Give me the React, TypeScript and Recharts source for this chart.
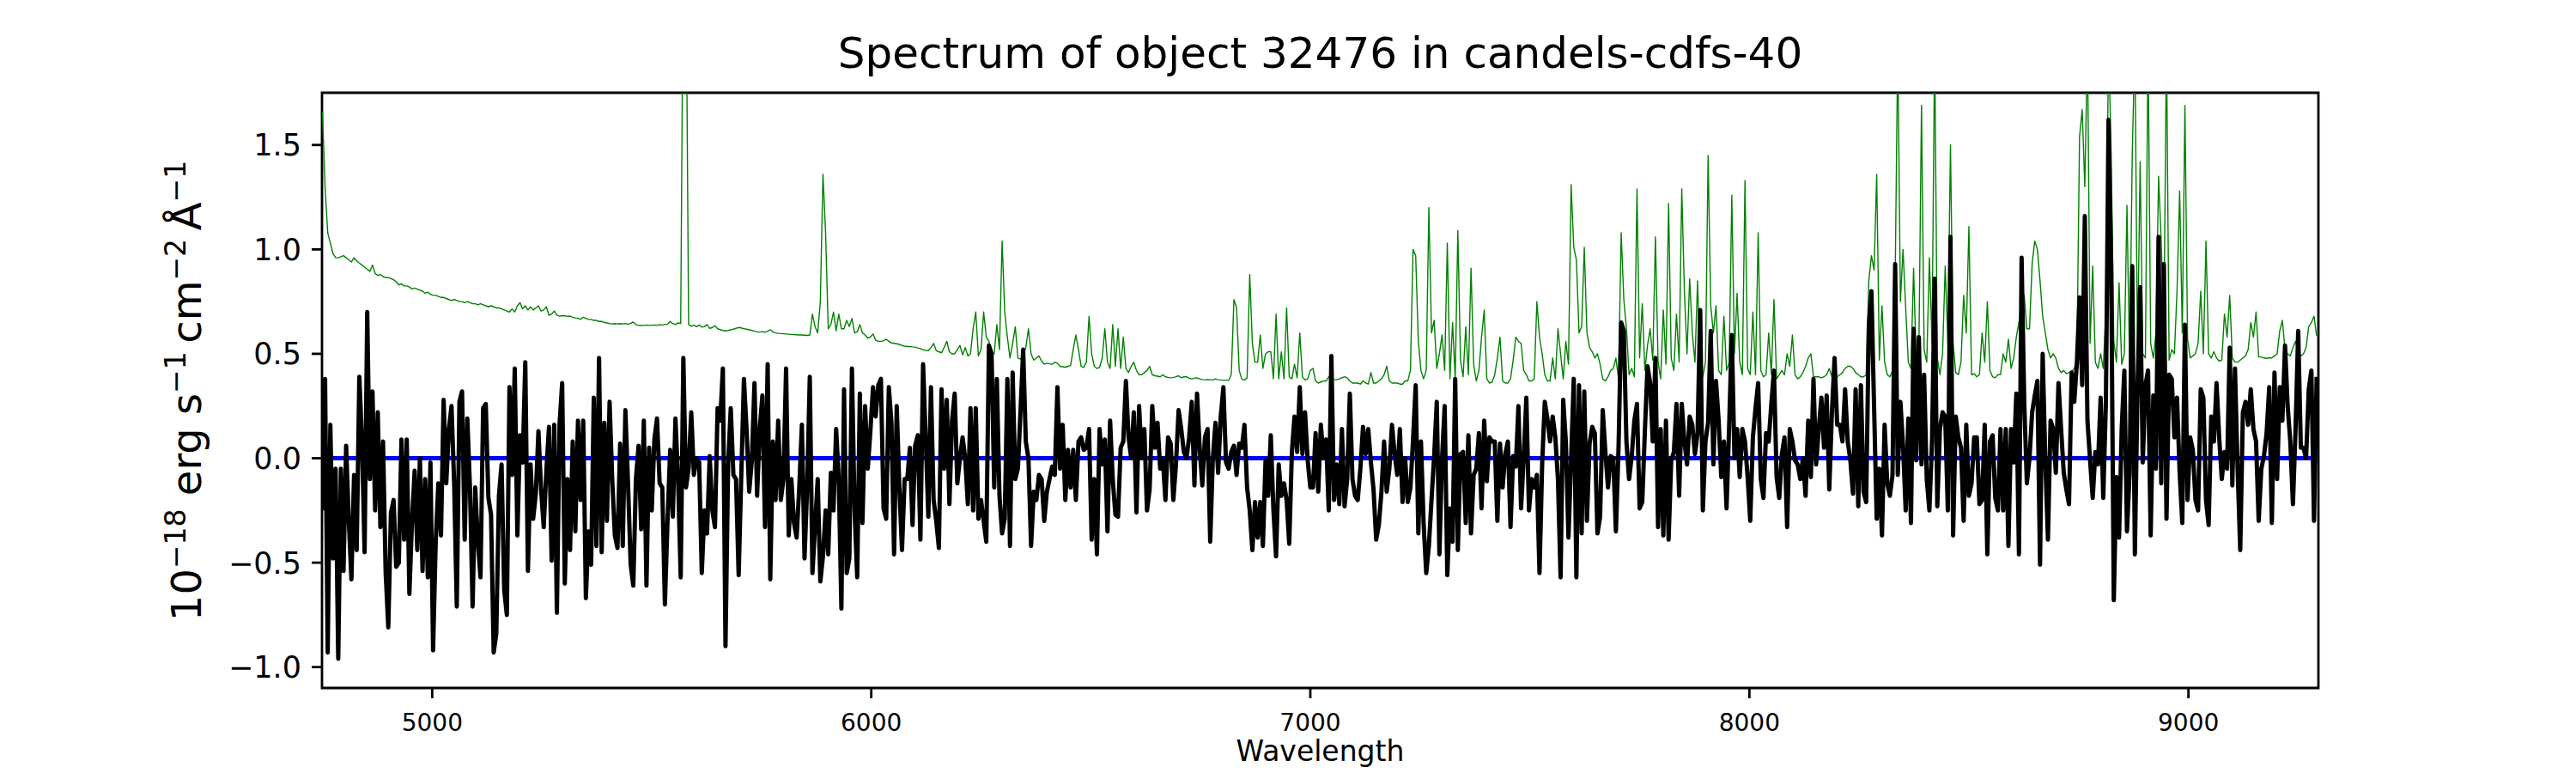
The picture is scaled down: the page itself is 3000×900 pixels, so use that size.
import React from 'react';
import { LineChart, Line, XAxis, YAxis, ReferenceArea } from 'recharts';

const FONT = 'DejaVu Sans';

// pixel grid of the spectrum: each block starts at its own wavelength, 6 A per pixel
const STEP = 6;
const BLOCK_STARTS = [4750, 5344, 5938, 6526, 7114, 7702, 8284, 8872];

const X_TICKS = [5000, 6000, 7000, 8000, 9000];
const Y_TICKS = [-1.0, -0.5, 0.0, 0.5, 1.0, 1.5];
const X_DOMAIN = [4749, 9296];
const Y_DOMAIN = [-1.1, 1.75];

// flux (black)
const FLUX_A = [
  -0.25, 0.38, -0.93, 0.16, -0.48, -0.05, -0.96, -0.05, -0.54, 0.06,
  -0.30, -0.58, -0.08, -0.44, 0.39, 0.09, -0.45, 0.70, -0.10, 0.32,
  -0.25, 0.22, -0.33, 0.08, -0.55, -0.81, -0.26, -0.20, -0.52, -0.50,
  0.09, -0.39, 0.09, -0.65, -0.30, -0.06, -0.44, 0.00, -0.54, -0.10,
  -0.57, -0.02, -0.92, -0.40, -0.12, -0.37, 0.28, -0.12, 0.14, 0.25,
  -0.12, -0.71, 0.27, 0.32, -0.39, 0.19, -0.14, -0.71, -0.14, -0.40,
  -0.57, 0.24, 0.26, -0.19, -0.27, -0.93, -0.84, -0.18, -0.03, -0.63,
  -0.75, 0.34, -0.08, 0.43, -0.37, 0.11, -0.02, 0.46, -0.54, -0.03,
  -0.29, -0.17, 0.13, -0.15, -0.33, -0.06, 0.15, -0.49, 0.16, -0.74,
  0.16, 0.36, -0.60, -0.10, -0.44, 0.08, -0.35, 0.18, -0.20,
];
const FLUX_B = [
  0.18, -0.67, -0.35, -0.51, 0.29, -0.42, 0.48, -0.45, 0.17, -0.30,
  0.27, -0.10, -0.37, -0.43, 0.07, -0.42, 0.23, -0.12, -0.51, -0.61,
  -0.10, 0.06, -0.34, 0.18, -0.61, 0.05, -0.25, 0.09, 0.19, -0.12,
  -0.14, -0.70, -0.30, 0.04, -0.28, 0.19, -0.10, -0.57, 0.48, -0.14,
  -0.05, 0.22, -0.08, 0.00, -0.02, -0.55, -0.25, -0.36, 0.01, -0.25,
  -0.33, 0.24, 0.18, 0.43, -0.90, -0.03, 0.24, -0.08, -0.10, -0.56,
  -0.08, 0.38, 0.14, -0.16, -0.01, 0.36, -0.18, 0.14, 0.30, -0.33,
  0.45, -0.58, 0.08, -0.20, 0.18, -0.20, -0.10, 0.43, -0.37, -0.10,
  -0.31, -0.38, -0.14, 0.16, -0.48, -0.14, 0.39, -0.55, -0.33, -0.10,
  -0.59, -0.47, -0.25, -0.46, -0.07, -0.25, 0.14, -0.10, -0.72,
];
const FLUX_C = [
  0.33, -0.55, -0.48, 0.43, -0.25, -0.57, 0.31, -0.31, 0.25, -0.05,
  0.13, 0.34, 0.20, 0.35, 0.38, -0.24, -0.29, 0.34, 0.17, -0.46,
  0.25, -0.14, -0.44, -0.10, -0.10, 0.05, -0.32, 0.06, 0.11, -0.39,
  0.45, 0.10, -0.28, 0.34, -0.20, -0.30, -0.43, 0.33, -0.05, 0.28,
  -0.22, 0.18, 0.31, -0.12, 0.00, 0.10, 0.00, -0.22, 0.24, -0.25,
  0.24, -0.29, -0.20, -0.30, -0.40, 0.54, 0.50, -0.14, 0.38, -0.18,
  -0.36, -0.29, 0.38, -0.42, 0.41, -0.10, -0.05, 0.23, 0.52, 0.08,
  0.00, -0.42, -0.16, -0.20, -0.08, -0.10, -0.30, -0.16, -0.10, -0.04,
  -0.08, 0.34, -0.05, 0.16, -0.20, 0.04, -0.14, 0.04, -0.20, 0.08,
  0.10, 0.04, 0.05, 0.14, -0.39, -0.10, -0.46, 0.14,
];
const FLUX_D = [
  -0.03, 0.09, -0.35, 0.18, -0.10, -0.27, -0.28, 0.05, 0.08, 0.37,
  0.10, 0.00, 0.22, -0.26, 0.25, 0.00, 0.14, -0.25, -0.15, 0.25,
  0.05, 0.17, -0.05, 0.00, -0.20, 0.10, 0.07, -0.20, -0.03, 0.23,
  0.14, 0.03, 0.00, 0.10, 0.27, -0.13, 0.31, 0.05, -0.13, 0.10,
  0.14, -0.40, 0.00, 0.17, -0.07, 0.20, 0.34, -0.02, -0.05, 0.03,
  0.06, -0.08, 0.07, 0.05, 0.16, -0.14, -0.25, -0.44, -0.21, -0.38,
  -0.21, -0.42, -0.01, -0.18, 0.11, -0.25, -0.47, -0.03, -0.18, -0.12,
  -0.20, -0.41, 0.03, 0.20, 0.03, 0.34, 0.02, 0.22, -0.01, -0.14,
  -0.14, 0.12, -0.16, 0.16, 0.00, 0.09, -0.25, 0.49, -0.20, -0.03,
  -0.22, 0.14, -0.23, -0.10, 0.31, -0.10, -0.18, -0.20,
];
const FLUX_E = [
  -0.05, 0.15, 0.02, 0.14, -0.02, -0.15, -0.39, -0.32, -0.16, 0.08,
  -0.16, -0.05, 0.16, 0.02, -0.08, 0.14, -0.21, 0.00, -0.21, -0.14,
  0.09, 0.35, -0.36, 0.08, -0.31, -0.55, -0.42, -0.20, 0.01, 0.27,
  -0.46, 0.00, 0.25, -0.56, -0.24, -0.40, 0.38, -0.44, 0.02, 0.03,
  -0.31, 0.11, -0.36, -0.08, -0.05, 0.12, -0.24, 0.18, -0.11, 0.10,
  0.08, 0.08, -0.30, 0.07, -0.14, 0.02, 0.08, -0.33, 0.01, -0.04,
  0.25, -0.24, 0.00, 0.29, -0.25, -0.10, -0.14, -0.08, -0.55, -0.03,
  0.27, 0.19, 0.08, 0.20, 0.10, -0.10, -0.57, 0.28, 0.08, -0.38,
  0.00, 0.38, -0.57, 0.35, -0.36, 0.32, -0.30, 0.07, 0.15, 0.12,
  -0.36, -0.28, 0.23, 0.03, -0.14, 0.01, 0.00, -0.35,
];
const FLUX_F = [
  0.05, 0.65, 0.61, 0.08, -0.10, 0.01, 0.18, 0.26, -0.24, -0.21,
  0.13, 0.44, 0.36, 0.08, 0.48, -0.33, 0.14, -0.37, 0.18, -0.39,
  -0.01, 0.03, 0.26, -0.18, 0.26, 0.08, -0.03, 0.20, 0.16, 0.02,
  0.12, 0.71, -0.25, 0.08, 0.17, 0.61, -0.03, 0.37, 0.18, -0.09,
  0.08, -0.24, 0.16, 0.59, 0.00, 0.14, -0.09, 0.14, 0.08, -0.09,
  -0.30, 0.10, 0.24, 0.36, -0.10, -0.19, 0.12, 0.08, 0.26, 0.42,
  -0.09, -0.19, 0.02, 0.10, -0.33, 0.14, 0.08, -0.01, -0.03, -0.10,
  0.00, -0.18, 0.18, -0.09, 0.38, -0.03, 0.14, 0.29, 0.05, 0.30,
  -0.15, 0.22, 0.48, 0.16, 0.16, 0.08, 0.33, 0.08, -0.01, -0.17,
  0.33, -0.23, 0.35, -0.16, -0.21, 0.63, 0.80,
];
const FLUX_G = [
  0.25, -0.29, -0.05, -0.37, 0.16, -0.12, -0.18, -0.08, 0.93, -0.08,
  0.27, 0.06, -0.25, 0.19, -0.31, 0.62, -0.01, 0.58, -0.03, 0.40,
  -0.10, -0.25, 0.08, 0.86, -0.23, 0.14, 0.22, 0.20, -0.25, 1.06,
  -0.37, 0.20, 0.10, 0.05, -0.30, 0.16, -0.18, -0.12, 0.10, 0.10,
  -0.22, -0.20, 0.16, -0.46, 0.08, 0.11, -0.19, -0.25, 0.14, -0.25,
  0.14, -0.42, 0.14, -0.02, 0.31, -0.46, 0.96, 0.27, -0.12, 0.00,
  0.22, 0.30, 0.37, -0.51, 0.50, -0.01, -0.39, 0.18, 0.14, -0.07,
  0.36, 0.14, -0.07, -0.15, -0.22, 0.41, 0.27, 0.46, 0.77, 0.35,
  1.16, 0.18, -0.01, -0.19, 0.03, -0.03, 0.29, -0.19, 0.27, 1.62,
  0.93, -0.68, -0.09, -0.38, 0.14, 0.42, -0.35, -0.07,
];
const FLUX_H = [
  0.92, -0.46, 0.33, 0.82, -0.02, 0.35, 0.42, -0.37, 0.30, -0.05,
  1.06, -0.12, 0.93, -0.29, 0.40, 0.38, 0.10, 0.29, -0.07, -0.31,
  0.64, -0.20, 0.10, 0.04, -0.20, -0.25, 0.33, 0.29, -0.20, -0.32,
  0.20, 0.08, 0.36, 0.10, -0.10, 0.03, -0.05, 0.53, -0.13, 0.43,
  -0.05, -0.44, 0.22, 0.27, 0.16, 0.33, 0.14, 0.08, -0.30, -0.05,
  0.01, 0.12, 0.34, -0.31, 0.41, -0.10, 0.34, 0.18, 0.54, 0.25,
  0.08, -0.22, 0.14, 0.61, 0.05, 0.05, 0.00, 0.33, 0.42, -0.30,
  0.39,
];

// noise / sky spectrum (green)
const ERR_A = [
  1.66, 1.30, 1.08, 1.03, 0.98, 0.96, 0.96, 0.965, 0.97, 0.96,
  0.95, 0.94, 0.96, 0.945, 0.935, 0.925, 0.915, 0.905, 0.895, 0.925,
  0.885, 0.875, 0.88, 0.87, 0.865, 0.865, 0.86, 0.855, 0.845, 0.83,
  0.835, 0.825, 0.825, 0.82, 0.81, 0.815, 0.81, 0.805, 0.80, 0.79,
  0.795, 0.785, 0.78, 0.78, 0.775, 0.77, 0.77, 0.765, 0.76, 0.755,
  0.76, 0.755, 0.75, 0.75, 0.745, 0.75, 0.745, 0.74, 0.74, 0.735,
  0.74, 0.735, 0.73, 0.725, 0.73, 0.725, 0.72, 0.72, 0.715, 0.71,
  0.705, 0.70, 0.715, 0.70, 0.73, 0.745, 0.715, 0.73, 0.71, 0.725,
  0.71, 0.72, 0.73, 0.705, 0.71, 0.725, 0.685, 0.69, 0.705, 0.685,
  0.68, 0.683, 0.682, 0.68, 0.68, 0.675, 0.672, 0.67, 0.665,
];
const ERR_B = [
  0.675, 0.67, 0.665, 0.665, 0.66, 0.66, 0.655, 0.655, 0.65, 0.648,
  0.645, 0.643, 0.645, 0.643, 0.645, 0.643, 0.645, 0.642, 0.645, 0.652,
  0.64, 0.636, 0.637, 0.635, 0.638, 0.636, 0.637, 0.638, 0.636, 0.64,
  0.638, 0.64, 0.642, 0.655, 0.645, 0.64, 0.648, 0.645, 2.5, 2.4,
  0.64, 0.632, 0.637, 0.63, 0.638, 0.628, 0.63, 0.64, 0.622, 0.625,
  0.635, 0.62, 0.616, 0.612, 0.61, 0.612, 0.615, 0.618, 0.622, 0.626,
  0.624, 0.62, 0.618, 0.615, 0.612, 0.608, 0.605, 0.604, 0.606, 0.603,
  0.608, 0.615, 0.605, 0.60, 0.598, 0.597, 0.596, 0.595, 0.594, 0.593,
  0.592, 0.591, 0.59, 0.59, 0.589, 0.588, 0.59, 0.69, 0.63, 0.60,
  0.75, 1.36, 1.08, 0.62, 0.64, 0.70, 0.61, 0.69, 0.62,
];
const ERR_C = [
  0.62, 0.66, 0.63, 0.67, 0.60, 0.605, 0.64, 0.60, 0.59, 0.575,
  0.58, 0.595, 0.565, 0.56, 0.56, 0.562, 0.57, 0.56, 0.552, 0.55,
  0.548, 0.545, 0.54, 0.537, 0.535, 0.535, 0.533, 0.532, 0.528, 0.525,
  0.52, 0.516, 0.515, 0.53, 0.55, 0.515, 0.51, 0.505, 0.53, 0.56,
  0.51, 0.50, 0.50, 0.52, 0.54, 0.495, 0.53, 0.49, 0.50, 0.62,
  0.70, 0.49, 0.52, 0.70, 0.58, 0.56, 0.50, 0.50, 0.64, 0.52,
  1.04, 0.70, 0.58, 0.48, 0.55, 0.63, 0.48, 0.475, 0.49, 0.53,
  0.62, 0.50, 0.47, 0.48, 0.49, 0.465, 0.45, 0.455, 0.452, 0.45,
  0.46, 0.455, 0.44, 0.438, 0.436, 0.44, 0.445, 0.52, 0.59, 0.52,
  0.44, 0.435, 0.46, 0.68, 0.50, 0.44, 0.43, 0.435,
];
const ERR_D = [
  0.48, 0.62, 0.46, 0.43, 0.64, 0.44, 0.62, 0.43, 0.58, 0.43,
  0.41, 0.44, 0.46, 0.42, 0.40, 0.40, 0.41, 0.42, 0.44, 0.40,
  0.395, 0.393, 0.39, 0.40, 0.39, 0.387, 0.385, 0.386, 0.39, 0.395,
  0.385, 0.39, 0.39, 0.383, 0.38, 0.383, 0.385, 0.38, 0.377, 0.376,
  0.377, 0.376, 0.375, 0.38, 0.376, 0.375, 0.374, 0.374, 0.373, 0.40,
  0.76, 0.72, 0.42, 0.378, 0.375, 0.385, 0.88, 0.55, 0.46, 0.46,
  0.59, 0.43, 0.50, 0.51, 0.51, 0.38, 0.69, 0.38, 0.51, 0.38,
  0.72, 0.39, 0.38, 0.45, 0.385, 0.60, 0.39, 0.375, 0.38, 0.42,
  0.43, 0.37, 0.36, 0.365, 0.37, 0.37, 0.39, 0.38, 0.377, 0.376,
  0.38, 0.385, 0.39, 0.385, 0.37, 0.36, 0.36, 0.36,
];
const ERR_E = [
  0.355, 0.37, 0.36, 0.355, 0.41, 0.36, 0.36, 0.37, 0.38, 0.40,
  0.44, 0.37, 0.36, 0.36, 0.36, 0.355, 0.355, 0.37, 0.37, 0.42,
  1.00, 0.97, 0.56, 0.42, 0.38, 0.42, 1.20, 0.60, 0.66, 0.43,
  0.50, 0.59, 0.42, 1.03, 0.38, 0.65, 0.38, 1.09, 0.47, 0.39,
  0.63, 0.40, 0.91, 0.45, 0.37, 0.42, 0.58, 0.71, 0.38, 0.36,
  0.365, 0.40, 0.48, 0.58, 0.37, 0.36, 0.36, 0.38, 0.47, 0.58,
  0.56, 0.55, 0.42, 0.40, 0.37, 0.37, 0.38, 0.75, 0.58, 0.50,
  0.40, 0.37, 0.37, 0.48, 0.38, 0.62, 0.50, 0.38, 0.56, 0.45,
  1.31, 1.01, 0.95, 0.60, 0.63, 1.01, 0.60, 0.53, 0.51, 0.48,
  0.50, 0.45, 0.38, 0.37, 0.39, 0.42, 0.43, 0.48,
];
const ERR_F = [
  0.38, 1.08, 0.76, 0.62, 0.40, 0.43, 0.39, 1.29, 0.48, 0.74,
  0.42, 0.54, 0.62, 0.47, 1.06, 0.46, 0.38, 0.71, 0.45, 1.22,
  0.48, 0.42, 0.69, 0.46, 1.29, 0.80, 0.50, 0.86, 0.60, 0.46,
  0.85, 0.42, 0.39, 0.46, 1.45, 0.73, 0.60, 0.73, 0.42, 0.40,
  0.68, 0.42, 0.46, 1.26, 0.50, 0.79, 0.46, 0.40, 1.33, 0.43,
  0.40, 0.70, 0.40, 1.08, 0.42, 0.39, 0.40, 0.60, 0.40, 0.76,
  0.38, 0.40, 0.42, 0.40, 0.50, 0.44, 0.59, 0.40, 0.38, 0.39,
  0.41, 0.44, 0.48, 0.50, 0.39, 0.39, 0.39, 0.385, 0.39, 0.40,
  0.43, 0.39, 0.39, 0.39, 0.40, 0.41, 0.43, 0.44, 0.44, 0.43,
  0.41, 0.40, 0.39, 0.39, 0.40, 0.85, 0.97,
];
const ERR_G = [
  0.90, 1.36, 0.47, 0.73, 0.46, 0.40, 0.39, 0.42, 0.84, 2.0,
  0.75, 1.0, 0.72, 0.46, 0.43, 0.91, 0.46, 0.50, 1.69, 0.52,
  0.46, 0.96, 0.55, 2.0, 0.48, 0.40, 0.50, 0.92, 0.55, 1.50,
  0.55, 0.41, 0.40, 0.46, 0.78, 0.60, 1.11, 0.40, 0.405, 0.39,
  0.40, 0.60, 0.46, 0.75, 0.42, 0.39, 0.385, 0.40, 0.40, 0.50,
  0.46, 0.57, 0.43, 0.48, 0.58, 0.65, 0.74, 0.78, 0.62, 0.62,
  0.93, 1.04, 1.00, 0.85, 0.68, 0.60, 0.52, 0.48, 0.50, 0.48,
  0.43, 0.41, 0.42, 0.405, 0.41, 0.415, 0.43, 0.48, 1.54, 1.67,
  1.30, 2.0, 0.55, 0.92, 0.46, 0.43, 0.50, 0.43, 0.70, 2.0,
  1.46, 0.56, 0.46, 0.84, 0.45, 0.50, 1.21, 0.44,
];
const ERR_H = [
  1.45, 2.0, 0.50, 1.42, 0.50, 0.48, 2.0, 0.55, 0.48, 0.60,
  1.35, 1.04, 0.60, 2.0, 0.47, 0.52, 0.50, 0.80, 1.28, 0.60,
  1.69, 0.57, 0.48, 0.49, 0.50, 0.55, 0.80, 0.50, 1.04, 0.50,
  0.48, 0.51, 0.48, 0.465, 0.47, 0.69, 0.58, 0.78, 0.48, 0.46,
  0.46, 0.47, 0.48, 0.49, 0.52, 0.65, 0.58, 0.70, 0.485, 0.485,
  0.48, 0.478, 0.48, 0.48, 0.49, 0.50, 0.61, 0.66, 0.52, 0.50,
  0.49, 0.53, 0.56, 0.50, 0.49, 0.50, 0.53, 0.63, 0.65, 0.68,
  0.585,
];

// model (blue), flat at zero
const MODEL_WAVE = [4750, 9292];
const MODEL_FLUX = [0, 0];

const FLUX_BLOCKS = [FLUX_A, FLUX_B, FLUX_C, FLUX_D, FLUX_E, FLUX_F, FLUX_G, FLUX_H];
const ERR_BLOCKS = [ERR_A, ERR_B, ERR_C, ERR_D, ERR_E, ERR_F, ERR_G, ERR_H];

function toRows(blocks: number[][]) {
  const rows: { wave: number; value: number }[] = [];
  blocks.forEach((block, b) => {
    block.forEach((v, j) => rows.push({ wave: BLOCK_STARTS[b] + STEP * j, value: v }));
  });
  return rows;
}

const fluxRows = toRows(FLUX_BLOCKS);
const errRows = toRows(ERR_BLOCKS);
const modelRows = MODEL_WAVE.map((w, i) => ({ wave: w, value: MODEL_FLUX[i] }));

const fmtY = (v: number) => v.toFixed(1).replace('-', '\u2212');

const XTick = (props: any) => {
  const { x, y, payload } = props;
  return (
    <text x={x} y={y + 26} textAnchor="middle" fontFamily={FONT} fontSize={28} fill="#000">
      {payload.value}
    </text>
  );
};

const YTick = (props: any) => {
  const { x, y, payload } = props;
  return (
    <text x={x} y={y + 12.5} textAnchor="end" fontFamily={FONT} fontSize={35} fill="#000">
      {fmtY(payload.value)}
    </text>
  );
};

export default function App() {
  const sup = { fontSize: 33 };
  return (
    <div style={{ position: 'relative', width: 3000, height: 900, background: '#fff' }}>
      <style>{'body { margin: 0; }'}</style>
      <LineChart width={3000} height={900} margin={{ top: 108, right: 300, bottom: 0, left: 0 }}>
        <XAxis
          type="number"
          dataKey="wave"
          domain={X_DOMAIN}
          ticks={X_TICKS}
          allowDataOverflow
          height={99}
          axisLine={false}
          tickSize={12}
          tickMargin={12}
          tickLine={{ stroke: '#000', strokeWidth: 2.8 }}
          tick={<XTick />}
        />
        <YAxis
          type="number"
          domain={Y_DOMAIN}
          ticks={Y_TICKS}
          allowDataOverflow
          width={375}
          axisLine={false}
          tickSize={12}
          tickMargin={12}
          tickLine={{ stroke: '#000', strokeWidth: 2.8 }}
          tick={<YTick />}
        />
        <Line
          data={errRows}
          dataKey="value"
          type="linear"
          stroke="#008000"
          strokeWidth={1.4}
          strokeLinejoin="round"
          dot={false}
          activeDot={false}
          isAnimationActive={false}
        />
        <Line
          data={modelRows}
          dataKey="value"
          type="linear"
          stroke="#0000ff"
          strokeWidth={5}
          dot={false}
          activeDot={false}
          isAnimationActive={false}
        />
        <Line
          data={fluxRows}
          dataKey="value"
          type="linear"
          stroke="#000"
          strokeWidth={5}
          strokeLinejoin="round"
          dot={false}
          activeDot={false}
          isAnimationActive={false}
        />
        <ReferenceArea
          x1={X_DOMAIN[0]}
          x2={X_DOMAIN[1]}
          y1={Y_DOMAIN[0]}
          y2={Y_DOMAIN[1]}
          fill="none"
          fillOpacity={0}
          stroke="#000"
          strokeWidth={2.8}
        />
      </LineChart>
      <svg
        width={3000}
        height={900}
        style={{ position: 'absolute', left: 0, top: 0, pointerEvents: 'none' }}
      >
        <text x={1537.5} y={79} textAnchor="middle" fontFamily={FONT} fontSize={50} fill="#000">
          Spectrum of object 32476 in candels-cdfs-40
        </text>
        <text x={1537.5} y={886} textAnchor="middle" fontFamily={FONT} fontSize={33} fill="#000">
          Wavelength
        </text>
        <text
          x={234}
          y={455}
          transform="rotate(-90 234 455)"
          textAnchor="middle"
          fontFamily={FONT}
          fontSize={48}
          fill="#000"
        >
          10<tspan dy={-18} {...sup}>{'\u221218'}</tspan>
          <tspan dy={18}> erg s</tspan>
          <tspan dy={-18} {...sup}>{'\u22121'}</tspan>
          <tspan dy={18}>{'\u2009cm'}</tspan>
          <tspan dy={-18} {...sup}>{'\u22122'}</tspan>
          <tspan dy={18}>{'\u2009Å'}</tspan>
          <tspan dy={-18} {...sup}>{'\u22121'}</tspan>
        </text>
      </svg>
    </div>
  );
}
